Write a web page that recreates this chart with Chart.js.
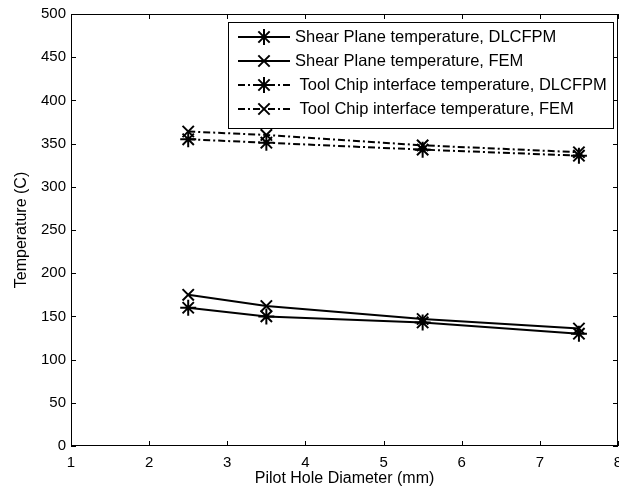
<!DOCTYPE html>
<html>
<head>
<meta charset="utf-8">
<script src="https://cdn.jsdelivr.net/npm/chart.js@4"></script>
<style>
  html, body { margin: 0; padding: 0; background: #fff; }
  #wrap { width: 619px; height: 492px; position: relative; }
</style>
</head>
<body>
<div id="wrap"><canvas id="chart"></canvas></div>
<script>
// data
const pilotDiameter = [2.5, 3.5, 5.5, 7.5];
const shearDLCFPM = [160, 150, 143, 130];
const shearFEM = [175, 162, 147, 136];
const toolDLCFPM = [355, 351, 343, 336];
const toolFEM = [364, 360, 348, 340];
const seriesLabels = [
    'Shear Plane temperature, DLCFPM',
    'Shear Plane temperature, FEM',
    ' Tool Chip interface temperature, DLCFPM',
    ' Tool Chip interface temperature, FEM'
];
const xTicks = [1, 2, 3, 4, 5, 6, 7, 8];
const yTicks = [0, 50, 100, 150, 200, 250, 300, 350, 400, 450, 500];

const FONT = '"Liberation Sans", Arial, sans-serif';
const DASHDOT = [7, 3, 2, 3];

function pts(ys) {
    return pilotDiameter.map((x, i) => ({ x: x, y: ys[i] }));
}

function makeSet(label, ys, style, dashed) {
    return {
        label: label,
        data: pts(ys),
        borderColor: '#000',
        backgroundColor: '#000',
        borderWidth: 2,
        borderDash: dashed ? DASHDOT : [],
        pointStyle: style,
        pointRadius: 8,
        pointBorderWidth: 2,
        pointBorderColor: '#000',
        tension: 0
    };
}

// matlab-style box with inward ticks on all four sides
const boxPlugin = {
    id: 'box',
    afterDraw(chart) {
        const { ctx, chartArea: a, scales } = chart;
        ctx.save();
        ctx.strokeStyle = '#000';
        ctx.lineWidth = 1;
        ctx.strokeRect(a.left + 0.5, a.top + 0.5, a.right - a.left - 1, a.bottom - a.top - 1);
        ctx.beginPath();
        xTicks.forEach(v => {
            const px = Math.round(scales.x.getPixelForValue(v)) + 0.5;
            ctx.moveTo(px, a.bottom); ctx.lineTo(px, a.bottom - 5);
            ctx.moveTo(px, a.top); ctx.lineTo(px, a.top + 5);
        });
        yTicks.forEach(v => {
            const py = Math.round(scales.y.getPixelForValue(v)) + 0.5;
            ctx.moveTo(a.left, py); ctx.lineTo(a.left + 5, py);
            ctx.moveTo(a.right, py); ctx.lineTo(a.right - 5, py);
        });
        ctx.stroke();
        ctx.restore();
    }
};

// legend box drawn like the original figure
const legendPlugin = {
    id: 'boxLegend',
    afterDraw(chart) {
        const ctx = chart.ctx;
        const L = 228, T = 22, W = 385, H = 106;
        ctx.save();
        ctx.fillStyle = '#fff';
        ctx.fillRect(L, T, W, H);
        ctx.strokeStyle = '#000';
        ctx.lineWidth = 1;
        ctx.strokeRect(L + 0.5, T + 0.5, W, H);
        chart.data.datasets.forEach((ds, i) => {
            const y = T + 15 + i * 24;
            ctx.strokeStyle = '#000';
            ctx.lineWidth = 2;
            ctx.setLineDash(ds.borderDash);
            ctx.beginPath();
            ctx.moveTo(L + 10, y);
            ctx.lineTo(L + 62, y);
            ctx.stroke();
            ctx.setLineDash([]);
            Chart.helpers.drawPoint(ctx, { pointStyle: ds.pointStyle, radius: 8, borderWidth: 2 }, L + 36, y);
            ctx.fillStyle = '#000';
            ctx.font = '16.5px ' + FONT;
            ctx.textBaseline = 'middle';
            ctx.fillText(ds.label, L + 67, y);
        });
        ctx.restore();
    }
};

new Chart(document.getElementById('chart'), {
    type: 'line',
    data: {
        datasets: [
            makeSet(seriesLabels[0], shearDLCFPM, 'star', false),
            makeSet(seriesLabels[1], shearFEM, 'crossRot', false),
            makeSet(seriesLabels[2], toolDLCFPM, 'star', true),
            makeSet(seriesLabels[3], toolFEM, 'crossRot', true)
        ]
    },
    options: {
        responsive: true,
        maintainAspectRatio: false,
        animation: false,
        devicePixelRatio: 1,
        layout: { autoPadding: false, padding: { top: 14, right: 1, left: 0, bottom: 0 } },
        plugins: {
            legend: { display: false },
            tooltip: { enabled: false }
        },
        scales: {
            x: {
                type: 'linear',
                min: 1,
                max: 8,
                afterBuildTicks(s) { s.ticks = xTicks.map(v => ({ value: v })); },
                afterFit(s) { s.height = 46; s.paddingLeft = 0; s.paddingRight = 0; },
                grid: { display: false, drawTicks: false },
                border: { display: false },
                ticks: { color: '#000', font: { family: FONT, size: 15 }, padding: 8, maxRotation: 0 },
                title: { display: true, text: 'Pilot Hole Diameter (mm)', color: '#000', font: { family: FONT, size: 16 }, padding: { top: 0 } }
            },
            y: {
                type: 'linear',
                min: 0,
                max: 500,
                afterBuildTicks(s) { s.ticks = yTicks.map(v => ({ value: v })); },
                afterFit(s) { s.width = 71; s.paddingTop = 0; s.paddingBottom = 0; },
                grid: { display: false, drawTicks: false },
                border: { display: false },
                ticks: { color: '#000', font: { family: FONT, size: 15 }, padding: 5 },
                title: { display: true, text: 'Temperature (C)', color: '#000', font: { family: FONT, size: 16 }, padding: { top: 12, bottom: 0 } }
            }
        }
    },
    plugins: [boxPlugin, legendPlugin]
});
</script>
</body>
</html>
